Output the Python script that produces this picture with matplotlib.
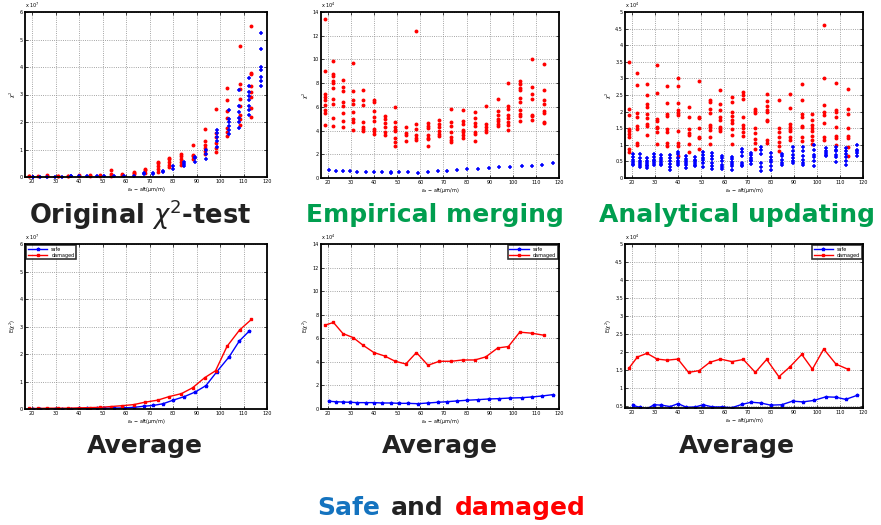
import numpy as np
import matplotlib
matplotlib.use('Agg')
import matplotlib.pyplot as plt

# x positions of the measurement groups
x_damaged = [18.6, 22.4, 26.5, 30.9, 35.2, 39.9, 44.5, 49.1, 53.7, 58.3, 63.3,
             68.2, 73.4, 78.3, 83.6, 88.3, 93.5, 98.1, 103.0, 108.3, 113.4]
x_safe = [20.6, 23.3, 26.5, 29.6, 32.7, 36.5, 40.0, 43.6, 47.5, 50.8, 54.8, 59.0,
          63.3, 67.6, 71.6, 75.7, 80.0, 84.8, 89.5, 94.0, 98.7, 103.9, 108.2, 112.5, 117.4]

# Original chi2-test (x 1e7)
orig_damaged = [
    [0.02, 0.03], [0.02], [0.03, 0.07], [0.03, 0.05], [0.02, 0.04], [0.03, 0.07],
    [0.04, 0.08], [0.04, 0.07], [0.05, 0.1, 0.24], [0.08, 0.12], [0.1, 0.15, 0.18],
    [0.15, 0.25, 0.3], [0.2, 0.3, 0.4, 0.5, 0.55], [0.35, 0.45, 0.55, 0.65, 0.7],
    [0.45, 0.55, 0.65, 0.75, 0.85], [0.65, 0.75, 0.8, 1.18],
    [0.85, 0.95, 1.05, 1.15, 1.3, 1.73], [0.9, 1.05, 1.25, 1.45, 1.6, 2.48],
    [1.5, 1.65, 1.8, 2.15, 2.4, 2.8, 3.22], [1.9, 2.1, 2.25, 2.6, 2.85, 3.2, 3.4, 4.78],
    [2.2, 2.5, 2.9, 3.1, 3.3, 3.75, 3.8, 5.5]]
orig_safe = [
    [0.0, 0.01], [0.01], [0.01], [0.01], [0.01], [0.02, 0.05], [0.02], [0.02], [0.02],
    [0.03], [0.03], [0.04], [0.05], [0.1, 0.13], [0.12, 0.15], [0.17, 0.22], [0.3, 0.4],
    [0.4, 0.48, 0.53], [0.55, 0.68, 0.72], [0.65, 0.85, 1.0], [1.1, 1.3, 1.45, 1.6, 1.72],
    [1.55, 1.7, 1.85, 2.0, 2.1, 2.44], [1.8, 2.0, 2.15, 2.35, 2.6, 3.17],
    [2.25, 2.45, 2.6, 2.8, 2.95, 3.1, 3.3, 3.59], [3.3, 3.5, 3.65, 3.9, 4.0, 4.67, 5.24]]

# Empirical merging (x 1e4)
emp_damaged = [
    [13.4, 9.0, 7.1, 6.85, 6.55, 6.15, 5.7, 5.5, 4.45],
    [9.86, 8.8, 8.6, 8.2, 8.05, 7.63, 6.68, 6.28, 5.1, 4.37],
    [8.25, 7.7, 7.35, 6.4, 6.06, 5.44, 4.8, 4.28],
    [9.72, 7.35, 6.62, 6.28, 5.55, 5.0, 4.7, 4.03],
    [7.46, 6.56, 6.14, 4.76, 4.31, 4.17, 3.94],
    [6.56, 6.42, 5.63, 5.15, 4.82, 4.14, 3.94, 3.69],
    [5.21, 5.0, 4.65, 4.31, 3.89, 3.63],
    [6.0, 4.73, 4.31, 4.03, 3.94, 3.38, 3.01, 2.7],
    [4.31, 3.83, 3.61, 3.13],
    [12.42, 4.54, 4.17, 3.61, 3.41, 3.18],
    [4.65, 4.39, 4.23, 3.61, 3.41, 3.3, 2.68],
    [4.93, 4.59, 4.31, 3.94, 3.75, 3.58],
    [5.86, 4.73, 4.42, 3.89, 3.46, 3.24, 3.07],
    [5.72, 4.79, 4.54, 4.08, 3.86, 3.61, 3.41],
    [5.58, 5.1, 4.65, 4.37, 3.89, 3.69, 3.13],
    [6.06, 4.59, 4.31, 4.08, 3.89],
    [6.68, 5.63, 5.3, 5.0, 4.82, 4.59, 4.37],
    [8.03, 6.06, 5.86, 5.3, 5.1, 4.73, 4.45, 4.03],
    [8.17, 7.92, 7.55, 7.41, 6.76, 6.39, 5.77, 5.38, 5.21, 4.79],
    [10.06, 7.69, 7.07, 6.7, 5.35, 5.24, 4.87],
    [9.61, 7.46, 6.62, 6.23, 5.66, 5.44, 4.7, 4.65]]
emp_safe = [
    [0.68], [0.62], [0.56], [0.56], [0.51], [0.54], [0.54], [0.54], [0.51, 0.4],
    [0.48], [0.48], [0.45], [0.51], [0.56], [0.62], [0.65], [0.73], [0.76], [0.82],
    [0.9], [0.96], [1.01], [1.04], [1.13], [1.24]]

# Analytical updating (x 1e4)
ana_damaged = [
    [3.49, 2.09, 1.91, 1.49, 1.41, 1.33, 1.22, 0.88, 0.78],
    [3.16, 2.81, 1.96, 1.83, 1.58, 1.47, 1.05, 0.99],
    [2.83, 2.51, 2.23, 2.14, 1.94, 1.81, 1.63, 1.57, 1.3],
    [3.41, 2.57, 1.79, 1.73, 1.55, 1.5, 1.4, 1.01],
    [2.78, 2.26, 1.94, 1.86, 1.48, 1.4, 1.05, 0.96],
    [3.01, 2.77, 2.26, 2.04, 1.96, 1.89, 1.42, 1.05, 0.96, 0.67],
    [2.15, 1.84, 1.49, 1.35, 1.29, 1.01, 0.79],
    [2.91, 1.85, 1.81, 1.51, 1.24, 1.19, 0.87],
    [2.34, 2.29, 2.08, 1.96, 1.59, 1.55, 1.45, 1.23, 1.03],
    [2.66, 2.24, 2.04, 1.85, 1.75, 1.53, 1.48, 1.43],
    [2.44, 2.28, 1.98, 1.87, 1.75, 1.65, 1.47, 1.31, 1.03],
    [2.6, 2.49, 2.39, 1.83, 1.61, 1.51, 1.4, 1.28],
    [2.09, 2.02, 1.96, 1.5, 1.35, 1.17, 1.05, 0.88],
    [2.54, 2.32, 2.16, 2.04, 2.0, 1.75, 1.71, 1.15, 1.05],
    [2.36, 1.5, 1.4, 1.25, 1.08, 0.95, 0.81],
    [2.54, 2.12, 1.63, 1.53, 1.48, 1.41, 1.25, 1.13],
    [2.84, 2.36, 1.94, 1.85, 1.58, 1.53, 1.25, 1.11],
    [1.92, 1.75, 1.61, 1.51, 1.43, 1.28, 1.15, 1.01],
    [4.6, 3.01, 2.21, 1.99, 1.89, 1.65, 1.22, 1.13],
    [2.87, 2.04, 1.99, 1.83, 1.55, 1.28, 1.21, 0.98],
    [2.67, 2.09, 1.94, 1.5, 1.28, 1.21, 0.93, 0.67]]
ana_safe = [
    [0.72, 0.62, 0.55, 0.48, 0.42, 0.38], [0.73, 0.6, 0.5, 0.45, 0.38, 0.32],
    [0.6, 0.52, 0.45, 0.4, 0.35, 0.3], [0.73, 0.62, 0.55, 0.5, 0.45, 0.4],
    [0.68, 0.6, 0.55, 0.48, 0.42, 0.38], [0.68, 0.6, 0.5, 0.42, 0.32, 0.25],
    [0.78, 0.72, 0.6, 0.5, 0.45, 0.4], [0.65, 0.58, 0.5, 0.44, 0.38, 0.3],
    [0.62, 0.55, 0.5, 0.45, 0.4, 0.35], [0.78, 0.7, 0.6, 0.55, 0.45, 0.34],
    [0.76, 0.66, 0.58, 0.45, 0.36, 0.26], [0.66, 0.6, 0.5, 0.4, 0.32, 0.26],
    [0.64, 0.56, 0.48, 0.42, 0.35, 0.25], [0.88, 0.78, 0.65, 0.45, 0.4, 0.36],
    [0.75, 0.68, 0.6, 0.55, 0.5, 0.42], [0.93, 0.85, 0.72, 0.46, 0.32, 0.22],
    [0.75, 0.62, 0.54, 0.48, 0.35, 0.25], [0.72, 0.65, 0.55, 0.45, 0.38],
    [0.92, 0.8, 0.68, 0.6, 0.5, 0.44], [0.92, 0.8, 0.65, 0.53, 0.45, 0.38],
    [0.98, 0.85, 0.68, 0.62, 0.52, 0.35], [0.9, 0.82, 0.76, 0.7, 0.65],
    [0.92, 0.85, 0.8, 0.7, 0.62, 0.47], [0.9, 0.82, 0.72, 0.62, 0.5, 0.4],
    [1.0, 0.85, 0.8, 0.75, 0.65]]

# averages
avg_orig_damaged = [0.02, 0.02, 0.03, 0.03, 0.03, 0.04, 0.05, 0.06, 0.09, 0.12, 0.16,
                    0.25, 0.32, 0.45, 0.56, 0.77, 1.14, 1.39, 2.28, 2.87, 3.26]
avg_orig_safe = [0.0, 0.0, 0.0, 0.01, 0.01, 0.01, 0.02, 0.02, 0.02, 0.03, 0.03, 0.04,
                 0.06, 0.1, 0.13, 0.19, 0.32, 0.45, 0.62, 0.85, 1.36, 1.9, 2.47, 2.84]
avg_emp_damaged = [7.11, 7.34, 6.4, 6.06, 5.41, 4.79, 4.5, 4.05, 3.82, 4.79, 3.71,
                   4.05, 4.05, 4.16, 4.16, 4.42, 5.18, 5.3, 6.52, 6.43, 6.26]
avg_emp_safe = [0.65, 0.62, 0.59, 0.57, 0.54, 0.54, 0.54, 0.51, 0.51, 0.48, 0.48, 0.45,
                0.51, 0.57, 0.62, 0.68, 0.74, 0.79, 0.85, 0.88, 0.93, 0.96, 1.02, 1.1, 1.22]
avg_ana_damaged = [1.54, 1.86, 1.96, 1.80, 1.77, 1.80, 1.43, 1.48, 1.71, 1.80, 1.73,
                   1.79, 1.43, 1.79, 1.31, 1.58, 1.93, 1.52, 2.08, 1.66, 1.52]
avg_ana_safe = [0.51, 0.46, 0.42, 0.53, 0.52, 0.48, 0.56, 0.46, 0.47, 0.53, 0.47, 0.47,
                0.45, 0.54, 0.6, 0.58, 0.52, 0.53, 0.63, 0.61, 0.65, 0.75, 0.74, 0.68, 0.79]

W, H = 881, 525
fig = plt.figure(figsize=(W / 100, H / 100), dpi=100)

XLAB = r'$\varepsilon_a$ $-$ att($\mu$m/m)'
FS = 3.5


def px_axes(l, t, r, b):
    return fig.add_axes([l / W, 1 - b / H, (r - l) / W, (b - t) / H])


def style(ax, ymin, ymax, ystep, expo, ylabel):
    ax.set_xlim(17, 120)
    ax.set_ylim(ymin, ymax)
    ax.set_xticks(np.arange(20, 121, 10))
    yt = np.arange(0, ymax + 1e-9, ystep)
    yt = yt[yt >= ymin - 1e-9]
    ax.set_yticks(yt)
    ax.set_yticklabels(['%g' % v for v in yt])
    ax.grid(True, linestyle=':', color='#888888', linewidth=0.6)
    ax.tick_params(direction='in', length=2, width=0.5, labelsize=FS, pad=1.5,
                   top=True, right=True)
    for s in ax.spines.values():
        s.set_linewidth(1.3)
    ax.set_xlabel(XLAB, fontsize=FS, labelpad=1)
    ax.set_ylabel(ylabel, fontsize=FS, labelpad=1)
    ax.text(0.0, 1.01, r'x 10$^{%d}$' % expo, transform=ax.transAxes, fontsize=FS,
            ha='left', va='bottom')


def scatter_groups(ax, xs, groups, **kw):
    for x, ys in zip(xs, groups):
        ax.plot([x] * len(ys), ys, linestyle='none', clip_on=False, **kw)


red_kw = dict(marker='o', color='red', markersize=2.8, markeredgewidth=0)
blue_kw = dict(marker='+', color='blue', markersize=3.2, markeredgewidth=1.1)

# top row: scatter
tops = [
    ((25, 12, 267, 177), orig_damaged, orig_safe, (0, 6, 1, 7)),
    ((321, 12, 559, 178), emp_damaged, emp_safe, (0, 14, 2, 4)),
    ((625, 12, 863, 178), ana_damaged, ana_safe, (0, 5, 0.5, 4)),
]
for box, dmg, sf, (y0, y1, ys, ex) in tops:
    ax = px_axes(*box)
    scatter_groups(ax, x_damaged, dmg, **red_kw)
    scatter_groups(ax, x_safe, sf, **blue_kw)
    style(ax, y0, y1, ys, ex, r'$\chi^2$')

# bottom row: averages
bottoms = [
    ((25, 244, 267, 409), avg_orig_damaged, avg_orig_safe, (0, 6, 1, 7), 'upper left'),
    ((321, 244, 559, 409), avg_emp_damaged, avg_emp_safe, (0, 14, 2, 4), 'upper right'),
    ((625, 244, 863, 408), avg_ana_damaged, avg_ana_safe, (0.44, 5, 0.5, 4), 'upper right'),
]
for box, dmg, sf, (y0, y1, ys, ex), loc in bottoms:
    ax = px_axes(*box)
    ax.plot(x_safe[:len(sf)], sf, color='blue', marker='*', markersize=2.5, linewidth=1.0,
            label='safe')
    ax.plot(x_damaged, dmg, color='red', marker='s', markersize=1.8, linewidth=1.0,
            label='damaged')
    style(ax, y0, y1, ys, ex, r'E($\chi^2$)')
    leg = ax.legend(loc=loc, fontsize=FS, fancybox=False, handlelength=4,
                    borderpad=0.3, labelspacing=0.2, borderaxespad=0.3)
    leg.get_frame().set_edgecolor('black')
    leg.get_frame().set_linewidth(1.2)

# panel captions
DARK = '#222222'
GREEN = '#009E4F'
cap_kw = dict(fontsize=18, fontweight='bold', ha='center', va='center',
              family='DejaVu Sans')
fig.text(140 / W, 1 - 215 / H, r'Original $\chi^2$-test', color=DARK,
         **{**cap_kw, 'fontsize': 18.5})
fig.text(435 / W, 1 - 215 / H, 'Empirical merging', color=GREEN, **cap_kw)
fig.text(737 / W, 1 - 215 / H, 'Analytical updating', color=GREEN, **cap_kw)
for cx in (145, 440, 737):
    fig.text(cx / W, 1 - 446 / H, 'Average', color=DARK, **cap_kw)

# bottom caption with three colours
left_kw = {**cap_kw, 'ha': 'left'}
t1 = fig.text(317 / W, 1 - 508 / H, 'Safe', color='#1473BF', **left_kw)
fig.canvas.draw()
r = fig.canvas.get_renderer()
bb = t1.get_window_extent(r)
t2 = fig.text((bb.x1 + 11) / W, 1 - 508 / H, 'and', color=DARK, **left_kw)
bb = t2.get_window_extent(r)
fig.text((bb.x1 + 11) / W, 1 - 508 / H, 'damaged', color='red', **left_kw)

fig.savefig('out.png', dpi=100)
